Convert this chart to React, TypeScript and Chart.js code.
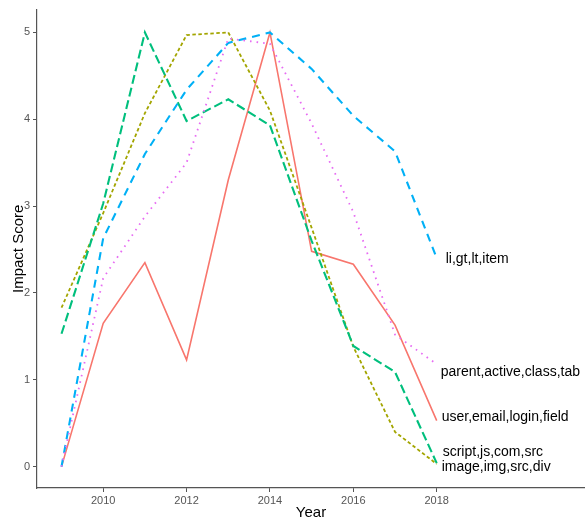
import React, { useEffect, useRef } from "react";
import { Chart, registerables } from "chart.js";

Chart.register(...registerables);

const years = [2009, 2010, 2011, 2012, 2013, 2014, 2015, 2016, 2017, 2018];
const userEmailLoginField = [0, 1.65, 2.35, 1.23, 3.3, 5.0, 2.48, 2.33, 1.63, 0.53];
const imageImgSrcDiv = [1.83, 2.92, 4.07, 4.97, 5.0, 4.1, 2.75, 1.38, 0.4, 0.03];
const scriptJsComSrc = [1.53, 3.03, 5.0, 3.98, 4.23, 3.93, 2.6, 1.39, 1.09, 0.04];
const liGtLtItem = [0, 2.63, 3.6, 4.34, 4.88, 5.0, 4.58, 4.04, 3.63, 2.4];
const parentActiveClassTab = [0, 2.17, 2.88, 3.5, 4.93, 4.87, 3.95, 2.93, 1.52, 1.18];

const seriesNames = [
  "user,email,login,field",
  "image,img,src,div",
  "script,js,com,src",
  "li,gt,lt,item",
  "parent,active,class,tab",
];
// vertical (value-axis) positions of the end labels after de-overlapping
const labelValues = [0.57, -0.01, 0.17, 2.39, 1.09];
const xTicks = [2010, 2012, 2014, 2016, 2018];
const yTicks = [0, 1, 2, 3, 4, 5];

const FONT = '"Liberation Sans", Arial, sans-serif';

export default function App() {
  const ref = useRef<HTMLCanvasElement | null>(null);

  useEffect(() => {
    document.body.style.margin = "0";
    const canvas = ref.current;
    if (!canvas) return;

    const values = [
      userEmailLoginField,
      imageImgSrcDiv,
      scriptJsComSrc,
      liGtLtItem,
      parentActiveClassTab,
    ];
    const colors = ["#F8766D", "#A3A500", "#00BF7D", "#00B0F6", "#E76BF3"];
    const dashes = [[], [3.5, 2.5], [9, 4], [8, 6], [1.6, 5]];
    const widths = [1.6, 1.8, 2.1, 2.1, 1.8];
    const labelDx = [5, 5, 6, 9, 4];

    const datasets = values.map((v, i) => ({
      label: seriesNames[i],
      data: years.map((y, j) => ({ x: y, y: v[j] })),
      borderColor: colors[i],
      backgroundColor: colors[i],
      borderWidth: widths[i],
      borderDash: dashes[i],
      borderCapStyle: "butt" as const,
      pointRadius: 0,
      tension: 0,
      fill: false,
      order: 5 - i,
    }));

    const overlay = {
      id: "overlay",
      afterDraw(chart: any) {
        const ctx = chart.ctx;
        const xs = chart.scales.x;
        const ys = chart.scales.y;
        const area = chart.chartArea;
        ctx.save();
        ctx.fillStyle = "#000";
        ctx.font = `14px ${FONT}`;
        ctx.textAlign = "left";
        ctx.textBaseline = "middle";
        seriesNames.forEach((name, i) => {
          const px = xs.getPixelForValue(years[years.length - 1]) + labelDx[i];
          const py = ys.getPixelForValue(labelValues[i]);
          ctx.fillText(name, px, py);
        });
        // axis titles
        ctx.font = `15px ${FONT}`;
        ctx.textAlign = "center";
        ctx.textBaseline = "alphabetic";
        ctx.fillText("Year", (area.left + area.right) / 2, 517);
        ctx.save();
        ctx.translate(23, (area.top + area.bottom) / 2);
        ctx.rotate(-Math.PI / 2);
        ctx.fillText("Impact Score", 0, 0);
        ctx.restore();
        ctx.restore();
      },
    };

    const chart = new Chart(canvas, {
      type: "line",
      data: { datasets },
      plugins: [overlay],
      options: {
        animation: false,
        responsive: false,
        maintainAspectRatio: false,
        layout: { padding: { top: 6, right: 0, left: 0, bottom: 0 } },
        plugins: { legend: { display: false }, tooltip: { enabled: false } },
        scales: {
          x: {
            type: "linear",
            min: 2008.412,
            max: 2021.557,
            afterBuildTicks: (s: any) => {
              s.ticks = xTicks.map((v) => ({ value: v }));
            },
            afterFit: (s: any) => {
              s.height = 34;
            },
            grid: {
              drawOnChartArea: false,
              drawTicks: true,
              tickLength: 4,
              color: "#555",
            },
            border: { display: true, color: "#555", width: 1.2 },
            ticks: {
              color: "#555",
              font: { family: FONT, size: 11 },
              padding: 2,
              maxRotation: 0,
              callback: (v: any) => String(v),
            },
          },
          y: {
            type: "linear",
            min: -0.246,
            max: 5.263,
            afterBuildTicks: (s: any) => {
              s.ticks = yTicks.map((v) => ({ value: v }));
            },
            afterFit: (s: any) => {
              s.width = 37;
            },
            grid: {
              drawOnChartArea: false,
              drawTicks: true,
              tickLength: 4,
              color: "#555",
            },
            border: { display: true, color: "#555", width: 1.2 },
            ticks: {
              color: "#555",
              font: { family: FONT, size: 11 },
              padding: 3,
              callback: (v: any) => String(v),
            },
          },
        },
      },
    });
    return () => chart.destroy();
  }, []);

  return (
    <div style={{ width: 585, height: 522, background: "#fff" }}>
      <canvas ref={ref} width={585} height={522} style={{ width: 585, height: 522, display: "block" }} />
    </div>
  );
}
